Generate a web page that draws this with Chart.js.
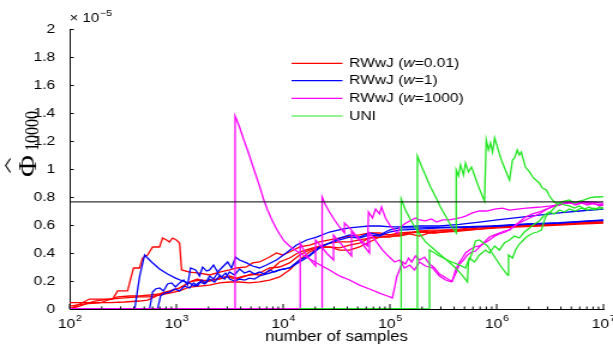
<!DOCTYPE html>
<html>
<head>
<meta charset="utf-8">
<script src="https://cdn.jsdelivr.net/npm/chart.js@4/dist/chart.umd.min.js"></script>
<style>
  html, body { margin: 0; padding: 0; background: #fff; }
</style>
</head>
<body>
<!-- the figure is drawn on a narrower canvas and stretched to 613px, like the source image -->
<canvas id="chart" width="511" height="345" style="width:613px;height:345px;display:block"></canvas>
<script>
/* ── values: number of samples / estimate (×1e-5) ── */

// RWwJ (w=0.01)
const samplesR1 = [100,154,253,282,349,397,452,482,537,599,696,743,810,864,921,1000,1072,1120,1330,1650,2050,2540,3150,3670,4540,5170,6010,7460,8650,9860,11500,14300,17700,21900,27200,33700,41900,51900,64400,80000,99000,123000,170000,235000,325000,449000,690000,1060000,1630000,2510000,3870000,5960000,10000000];
const valuesR1  = [0,0.071,0.071,0.129,0.129,0.293,0.293,0.364,0.386,0.443,0.443,0.507,0.493,0.479,0.507,0.493,0.471,0.279,0.264,0.257,0.243,0.264,0.279,0.293,0.3,0.329,0.336,0.371,0.4,0.386,0.407,0.443,0.457,0.479,0.493,0.507,0.521,0.529,0.543,0.543,0.529,0.543,0.55,0.564,0.564,0.571,0.586,0.593,0.6,0.607,0.611,0.621,0.629];
const samplesR2 = [100,154,237,328,452,537,625,727,864,1072,1330,1650,2046,2537,3148,3665,4350,5167,6275,7460,9250,11480,14250,17660,21900,27200,33700,41900,51900,64400,80000,98800,123000,153000,189000,262000,361000,500000,690000,1060000,1630000,2510000,3870000,5960000,10000000];
const valuesR2  = [0.045,0.046,0.046,0.05,0.057,0.064,0.086,0.114,0.129,0.15,0.193,0.207,0.2,0.221,0.236,0.221,0.236,0.243,0.264,0.293,0.3,0.329,0.386,0.421,0.443,0.443,0.436,0.457,0.471,0.507,0.529,0.529,0.529,0.543,0.55,0.543,0.557,0.564,0.571,0.586,0.593,0.6,0.607,0.614,0.621];
const samplesR3 = [100,138,191,282,365,452,561,667,775,902,1072,1220,1389,1579,1840,2136,2537,3020,3587,4257,5057,6010,7460,9250,11480,14250,17660,21900,27200,33700,41900,51900,64400,80000,98800,123000,153000,189000,235000,325000,449000,690000,1060000,1630000,2510000,3870000,5960000,10000000];
const valuesR3  = [0.021,0.036,0.043,0.086,0.093,0.093,0.1,0.107,0.114,0.129,0.15,0.171,0.2,0.214,0.186,0.207,0.214,0.229,0.214,0.229,0.25,0.243,0.271,0.336,0.364,0.407,0.429,0.45,0.471,0.479,0.479,0.493,0.507,0.514,0.521,0.521,0.536,0.521,0.543,0.55,0.557,0.571,0.579,0.586,0.593,0.6,0.607,0.614];
const samplesR4 = [100,124,172,237,328,452,561,696,864,1072,1330,1650,2046,2537,3148,3905,4843,6010,7460,9250,11480,14250,17660,21900,27200,33700,41900,51900,64400,80000,98800,123000,153000,189000,235000,325000,449000,690000,1060000,1630000,2510000,3870000,5960000,10000000];
const valuesR4  = [0,0.021,0.057,0.071,0.079,0.086,0.086,0.1,0.114,0.129,0.157,0.164,0.171,0.186,0.193,0.193,0.186,0.193,0.207,0.229,0.279,0.35,0.407,0.436,0.443,0.421,0.421,0.443,0.479,0.514,0.514,0.529,0.543,0.557,0.55,0.564,0.564,0.579,0.586,0.593,0.6,0.607,0.614,0.621];

// RWwJ (w=1)
const samplesB1 = [100,407,452,504,586,696,827,983,1144,1330,1480,1650,1840,2046,2280,2537,2830,3148,3510,3905,4350,4843,5390,6010,6690,7460,8300,9250,11480,14250,17660,21900,27200,33700,41900,51900,64400,80000,98800,123000,189000,291000,449000,690000,1060000,1900000,3870000,7890000,10000000];
const valuesB1  = [0,0,0.229,0.386,0.336,0.286,0.25,0.221,0.2,0.186,0.164,0.193,0.179,0.214,0.193,0.236,0.214,0.264,0.243,0.286,0.257,0.271,0.25,0.264,0.25,0.279,0.264,0.279,0.293,0.336,0.379,0.436,0.471,0.493,0.514,0.507,0.529,0.521,0.55,0.564,0.571,0.579,0.582,0.586,0.593,0.604,0.614,0.629,0.632];
const samplesB2 = [100,561,599,639,696,758,827,902,983,1072,1169,1274,1359,1512,1650,1760,1921,2046,2231,2430,2649,3020,3287,3587,3905,4541,5167,6010,6985,8665,10670,13363,16600,20570,27200,35960,41900,51900,64400,80000,101000,123000,189000,291000,449000,690000,1060000,1630000,2510000,3870000,5960000,10000000];
const valuesB2  = [0,0,0.121,0.143,0.15,0.129,0.179,0.186,0.157,0.186,0.207,0.171,0.293,0.279,0.236,0.3,0.271,0.279,0.314,0.264,0.293,0.336,0.293,0.371,0.35,0.329,0.307,0.293,0.314,0.35,0.4,0.457,0.493,0.514,0.55,0.571,0.579,0.586,0.593,0.593,0.586,0.586,0.593,0.593,0.604,0.621,0.638,0.654,0.671,0.686,0.7,0.714];
const samplesB3 = [100,667,711,775,864,962,1072,1194,1330,1448,1579,1723,1880,2046,2231,2430,2649,2892,3148,3510,3905,4350,4843,5390,6010,7460,9250,11480,14250,17660,21900,27200,33700,41900,51900,64400,80000,98800,123000,189000,291000,449000,914000,1900000,3870000,7890000,10000000];
const valuesB3  = [0,0,0.093,0.114,0.121,0.143,0.129,0.164,0.15,0.186,0.164,0.207,0.186,0.236,0.214,0.257,0.229,0.257,0.214,0.2,0.214,0.207,0.221,0.214,0.236,0.257,0.279,0.293,0.35,0.386,0.443,0.471,0.507,0.529,0.514,0.543,0.529,0.564,0.579,0.579,0.582,0.586,0.593,0.607,0.616,0.631,0.636];

// RWwJ (w=1000)
const samplesM1 = [100,3550,3550,3905,4257,4639,5057,5508,6010,6547,7146,7788,8481,9250,10218,11480,13363,15900,20570,27200,33700,41900,51900,64400,80000,94960,105400,111000,115900,123000,131200,140000,149700,159700,173700,189000,211000,235000,262000,291000,325000,361000,385200,411800,449000,479000,511000,556000,620000,690000,770000,857000,958000,1060000,1206000,1378000,1561000,1781000,2030000,2260000,2510000,2861000,3257000,3707000,4218000,4800000,5467000,6222000,7079000,8055000,9180000,10000000];
const valuesM1  = [0,0,1.379,1.3,1.214,1.136,1.05,0.964,0.879,0.786,0.707,0.643,0.586,0.536,0.486,0.45,0.414,0.379,0.329,0.279,0.236,0.207,0.171,0.143,0.114,0.093,0.079,0.157,0.229,0.279,0.336,0.321,0.364,0.336,0.379,0.35,0.371,0.321,0.293,0.25,0.229,0.207,0.2,0.279,0.336,0.364,0.4,0.421,0.443,0.45,0.471,0.493,0.521,0.536,0.55,0.579,0.607,0.629,0.65,0.664,0.679,0.707,0.729,0.75,0.757,0.764,0.743,0.757,0.743,0.757,0.736,0.743];
const samplesM2 = [100,14470,14470,15900,17660,20130,20130,22860,26030,29650,29650,34440,39250,43740,43740,51900,59060,64400,64400,74960,85360,98800,111000,123000,137000,153000,170000,189000,215600,250700,291000,332100,376900,411800,449000,489300,532600,580500,633500,690000,770000,857000,958000,1060000,1180000,1320000,1470000,1630000,1860000,2165000,2510000,2923000,3324000,3870000,4500000,5350000,6785000,8240000,10000000];
const valuesM2  = [0,0,0.471,0.407,0.357,0.307,0.493,0.443,0.393,0.35,0.529,0.471,0.421,0.379,0.55,0.493,0.436,0.4,0.543,0.479,0.421,0.371,0.336,0.35,0.293,0.314,0.279,0.336,0.307,0.293,0.236,0.207,0.193,0.25,0.321,0.35,0.386,0.407,0.414,0.443,0.479,0.514,0.529,0.543,0.557,0.564,0.593,0.621,0.657,0.679,0.693,0.714,0.729,0.743,0.757,0.764,0.766,0.764,0.755];
const samplesM3 = [100,23210,23210,24930,27200,30300,33700,37600,37600,41900,47620,54180,61690,63030,68710,73370,80000,83520,90940,101000,113400,118400,123000,137000,153000,173700,189000,215600,245300,273500,311300,361000,403000,449000,511000,593200,690000,803900,958000,1131000,1320000,1561000,1900000,2260000,2682000,3257000,3870000,4500000,5122000,5960000,6932000,8240000,10000000];
const valuesM3  = [0,0,0.8,0.743,0.693,0.636,0.586,0.543,0.614,0.579,0.529,0.486,0.45,0.693,0.65,0.714,0.679,0.729,0.65,0.593,0.55,0.543,0.579,0.607,0.629,0.65,0.636,0.629,0.643,0.621,0.636,0.636,0.643,0.65,0.664,0.686,0.7,0.7,0.714,0.721,0.707,0.714,0.721,0.725,0.729,0.736,0.743,0.757,0.759,0.754,0.759,0.75,0.743];

// UNI
const samplesG1 = [14250,127600,127600,140000,156300,173700,193100,215600,250700,291000,339300,394400,449000,500000,532600,544100,593200,633500,690000,753600,820900,894700,1000000,1107000,1264000,1292000,1408000,1502000,1630000,1781000,1900000,2030000,2212000,2404000,2620000,2861000,3120000,3324000,3623000,3870000,4310000,4800000,5350000,5960000,6640000,7390000,8240000,9180000,10000000];
const valuesG1  = [0,0,0.786,0.707,0.636,0.579,0.529,0.479,0.436,0.393,0.35,0.307,0.264,0.221,0.193,0.336,0.407,0.486,0.493,0.471,0.45,0.407,0.35,0.3,0.243,0.386,0.364,0.421,0.464,0.493,0.514,0.529,0.543,0.55,0.564,0.657,0.686,0.707,0.736,0.757,0.743,0.736,0.721,0.736,0.714,0.729,0.707,0.729,0.721];
const samplesG2 = [14250,181000,181000,197300,218900,240100,271800,297300,337100,368900,418000,418000,439400,458800,489300,511000,544100,580500,633500,690000,770000,798700,838700,875700,914400,958000,1022000,1107000,1206000,1320000,1408000,1470000,1561000,1630000,1702000,1860000,2030000,2212000,2510000,2682000,2923000,3120000,3324000,3546000,3870000,4310000,4800000,5350000,5960000,6640000,7390000,8240000,9180000,10000000];
const valuesG2  = [0,0,1.093,1.021,0.943,0.871,0.793,0.729,0.657,0.6,0.543,0.993,0.95,1.029,0.957,1.043,0.979,1.014,0.936,0.857,0.771,1.207,1.136,1.186,1.121,1.221,1.15,1.064,0.993,0.921,1.064,1.079,1.136,1.1,1.121,1.014,0.979,0.936,0.9,0.864,0.85,0.807,0.779,0.757,0.757,0.771,0.779,0.757,0.771,0.779,0.793,0.8,0.8,0.802];
const samplesG3 = [14250,235000,235000,291000,361000,449000,511000,556000,620000,690000,786800,857000,958000,1060000,1180000,1320000,1470000,1630000,1820000,2030000,2260000,2510000,2800000,3120000,3470000,3870000,4310000,4800000,5467000,6222000,7079000,8055000,9180000,10000000];
const valuesG3  = [0,0,0.421,0.379,0.343,0.314,0.293,0.364,0.336,0.386,0.421,0.4,0.45,0.421,0.471,0.493,0.521,0.507,0.55,0.579,0.607,0.629,0.671,0.693,0.679,0.707,0.693,0.714,0.7,0.721,0.707,0.721,0.714,0.721];

// reference level (black line), axes and labels
const trueValue = 0.765;
const xTickValues = [1e2, 1e3, 1e4, 1e5, 1e6, 1e7];
const xTickExponents = ['2', '3', '4', '5', '6', '7'];
const yTickValues = [0, 0.2, 0.4, 0.6, 0.8, 1, 1.2, 1.4, 1.6, 1.8, 2];
const seriesNames = ['RWwJ (w=0.01)', 'RWwJ (w=1)', 'RWwJ (w=1000)', 'UNI'];
const xTitle = 'number of samples';
const yMultiplier = ['× 10', '−5'];

/* ── styling ── */
const FONT = "'Liberation Sans', Arial, Helvetica, sans-serif";
const SERIF = "'Liberation Serif', 'Times New Roman', serif";
const seriesColors = ['#ff0000', '#0000ff', '#ff00ff', '#22e622'];

const runsPerSeries = [
  [[samplesR1, valuesR1], [samplesR2, valuesR2], [samplesR3, valuesR3], [samplesR4, valuesR4]],
  [[samplesB1, valuesB1], [samplesB2, valuesB2], [samplesB3, valuesB3]],
  [[samplesM1, valuesM1], [samplesM2, valuesM2], [samplesM3, valuesM3]],
  [[samplesG1, valuesG1], [samplesG2, valuesG2], [samplesG3, valuesG3]],
];

function zip(xs, ys) {
  const n = Math.min(xs.length, ys.length);
  return xs.slice(0, n).map((x, i) => ({ x, y: ys[i] }));
}

const datasets = [];
runsPerSeries.forEach((runs, s) => {
  runs.forEach(([xs, ys]) => datasets.push({
    data: zip(xs, ys),
    borderColor: seriesColors[s],
    borderWidth: 1.3,
    pointRadius: 0,
    tension: 0,
    fill: false,
    order: 4 - s,          // later series drawn on top, like the original plot order
  }));
});
datasets.push({
  data: [{ x: xTickValues[0], y: trueValue }, { x: xTickValues[xTickValues.length - 1], y: trueValue }],
  borderColor: '#000',
  borderWidth: 1,
  pointRadius: 0,
  order: 0,
});

// ── ticks inside the axes, log labels, titles and legend ──
const decorations = {
  id: 'decorations',
  afterDraw(chart) {
    const { ctx, chartArea: a, scales: { x, y } } = chart;
    ctx.save();

    // inward tick marks
    ctx.strokeStyle = '#000';
    ctx.lineWidth = 1;
    ctx.beginPath();
    yTickValues.forEach(v => {
      const py = Math.round(y.getPixelForValue(v)) + 0.5;
      ctx.moveTo(a.left, py);
      ctx.lineTo(a.left + 3.5, py);
    });
    xTickValues.forEach(v => {
      const px = x.getPixelForValue(v);
      ctx.moveTo(px, a.bottom);
      ctx.lineTo(px, a.bottom - 5);
    });
    for (let d = 0; d < xTickValues.length - 1; d++) {
      for (let m = 2; m <= 9; m++) {
        const px = x.getPixelForValue(m * xTickValues[d]);
        ctx.moveTo(px, a.bottom);
        ctx.lineTo(px, a.bottom - 2.5);
      }
    }
    ctx.stroke();

    // 10^k labels
    ctx.fillStyle = '#000';
    ctx.textBaseline = 'alphabetic';
    ctx.textAlign = 'left';
    xTickValues.forEach((v, i) => {
      const px = x.getPixelForValue(v);
      ctx.font = `13px ${FONT}`;
      const wBase = ctx.measureText('10').width;
      ctx.font = `9px ${FONT}`;
      const wExp = ctx.measureText(xTickExponents[i]).width;
      const left = px - (wBase + wExp) / 2;
      ctx.font = `13px ${FONT}`;
      ctx.fillText('10', left, 328);
      ctx.font = `9px ${FONT}`;
      ctx.fillText(xTickExponents[i], left + wBase + 0.5, 320.5);
    });

    // x axis title
    ctx.font = `14px ${FONT}`;
    ctx.textAlign = 'center';
    ctx.fillText(xTitle, (a.left + a.right) / 2, 341);

    // × 10^-5
    ctx.textAlign = 'left';
    ctx.font = `12.5px ${FONT}`;
    ctx.fillText(yMultiplier[0], a.left, 22);
    const wMul = ctx.measureText(yMultiplier[0]).width;
    ctx.font = `9px ${FONT}`;
    ctx.fillText(yMultiplier[1], a.left + wMul + 0.5, 16);

    // y axis title: Phi-hat with subscript, rotated
    ctx.save();
    ctx.translate(29.5, 177);
    ctx.rotate(-Math.PI / 2);
    ctx.font = `20px ${SERIF}`;
    const wPhi = ctx.measureText('Φ').width;
    const sx = 22 / wPhi;
    ctx.save();
    ctx.scale(sx, 1);
    ctx.fillText('Φ', 0, 0);
    ctx.restore();
    ctx.font = `16px ${SERIF}`;
    ctx.fillText('10000', 26, 2.2);
    ctx.lineWidth = 1.1;
    ctx.beginPath();
    ctx.moveTo(4.5, -20.8);
    ctx.lineTo(11.5, -24.8);
    ctx.lineTo(18.5, -20.8);
    ctx.stroke();
    ctx.restore();

    // legend (no box), italic w
    const rows = [63.3, 80.7, 98.3, 116];
    ctx.textBaseline = 'middle';
    seriesNames.forEach((name, i) => {
      const yy = rows[i];
      ctx.strokeStyle = seriesColors[i];
      ctx.lineWidth = 1.2;
      ctx.beginPath();
      ctx.moveTo(243, yy);
      ctx.lineTo(285.5, yy);
      ctx.stroke();
      ctx.fillStyle = '#000';
      const m = name.match(/^(.*\()(w)(=.*)$/);
      const parts = m ? [[m[1], ''], [m[2], 'italic '], [m[3], '']] : [[name, '']];
      let tx = 291;
      parts.forEach(([txt, style]) => {
        ctx.font = `${style}13px ${FONT}`;
        ctx.fillText(txt, tx, yy);
        tx += ctx.measureText(txt).width;
      });
    });

    ctx.restore();
  },
};

new Chart(document.getElementById('chart'), {
  type: 'line',
  data: { datasets },
  plugins: [decorations],
  options: {
    responsive: false,
    animation: false,
    events: [],
    layout: { padding: { left: 0, right: 8, top: 29, bottom: 0 } },
    plugins: {
      legend: { display: false },
      tooltip: { enabled: false },
    },
    scales: {
      x: {
        type: 'logarithmic',
        min: xTickValues[0],
        max: xTickValues[xTickValues.length - 1],
        ticks: { display: false },
        grid: { display: false },
        border: { display: true, color: '#000', width: 1 },
        afterFit: s => { s.height = 36; },
      },
      y: {
        min: 0,
        max: 2,
        ticks: {
          stepSize: 0.2,
          padding: 4,
          color: '#000',
          font: { family: FONT, size: 13 },
          callback: v => String(Math.round(v * 10) / 10),
        },
        grid: { display: false },
        border: { display: true, color: '#000', width: 1 },
        afterFit: s => { s.width = 58; },
      },
    },
  },
});
</script>
</body>
</html>
